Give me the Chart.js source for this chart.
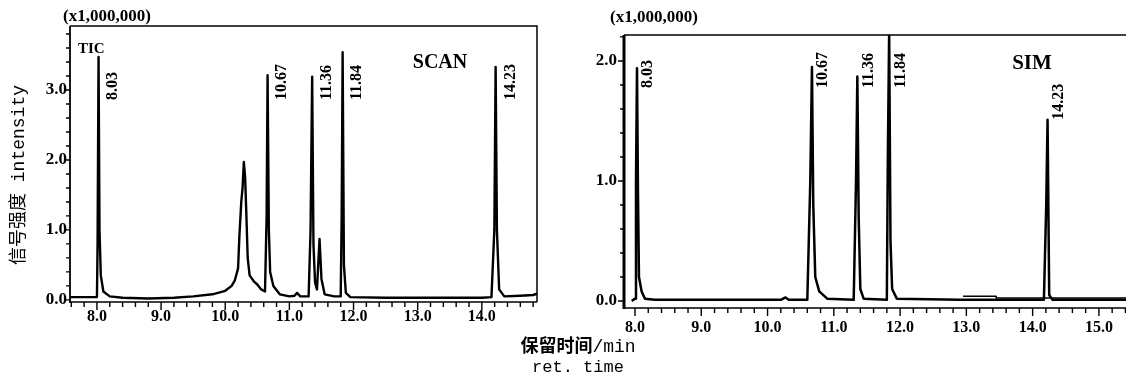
<!DOCTYPE html>
<html><head><meta charset="utf-8">
<script src="https://cdn.jsdelivr.net/npm/chart.js@4/dist/chart.umd.min.js"></script>
<style>
html,body{margin:0;padding:0;background:#fff;overflow:hidden;width:1126px;height:382px;position:relative}
canvas{position:absolute;top:0}
#c1{left:0}
#c2{left:560px}
.xt{position:absolute;left:478px;width:200px;text-align:center;color:#000;white-space:nowrap}
#xt1{top:331px;font:18px 'Liberation Mono','Noto Sans CJK SC',monospace}
#xt1 b{font-family:'Noto Sans CJK SC';font-weight:bold}
#xt2{top:358px;font:17px 'Liberation Mono',monospace}
</style></head><body>
<canvas id="c1" width="545" height="340"></canvas>
<canvas id="c2" width="580" height="345"></canvas>
<div class="xt" id="xt1"><b>保留时间</b>/min</div>
<div class="xt" id="xt2">ret. time</div>
<script>
// ---------- data ----------
const scanTime = [
  7.58, 7.90, 8.00, 8.01, 8.025, 8.04, 8.06, 8.10, 8.20, 8.40,
  8.80, 9.20, 9.50, 9.80, 10.00, 10.10, 10.15, 10.20, 10.22, 10.25,
  10.27, 10.29, 10.31, 10.33, 10.35, 10.38, 10.45, 10.50, 10.56, 10.62,
  10.645, 10.66, 10.68, 10.70, 10.75, 10.85, 11.00, 11.08, 11.12, 11.17,
  11.30, 11.33, 11.355, 11.375, 11.40, 11.43, 11.47, 11.50, 11.55, 11.70,
  11.80, 11.815, 11.83, 11.85, 11.88, 11.95, 12.50, 13.00, 13.50, 14.00,
  14.15, 14.195, 14.215, 14.235, 14.27, 14.35, 14.60, 14.80, 14.86
];
const scanSignal = [
  0.04, 0.04, 0.04, 0.80, 3.47, 1.00, 0.35, 0.12, 0.05, 0.03,
  0.02, 0.03, 0.05, 0.08, 0.13, 0.20, 0.28, 0.45, 0.90, 1.40,
  1.60, 1.97, 1.75, 1.20, 0.60, 0.35, 0.26, 0.22, 0.15, 0.12,
  1.20, 3.21, 1.00, 0.40, 0.20, 0.08, 0.05, 0.06, 0.10, 0.05,
  0.05, 1.00, 3.19, 0.80, 0.25, 0.15, 0.87, 0.30, 0.08, 0.05,
  0.05, 1.20, 3.54, 0.50, 0.10, 0.04, 0.03, 0.03, 0.03, 0.03,
  0.04, 1.00, 3.33, 1.00, 0.15, 0.05, 0.06, 0.07, 0.09
];
const simTime = [
  7.95, 8.00, 8.015, 8.03, 8.045, 8.06, 8.10, 8.15, 8.30, 9.00,
  10.20, 10.27, 10.32, 10.60, 10.645, 10.67, 10.69, 10.72, 10.78, 10.90,
  11.30, 11.335, 11.355, 11.375, 11.40, 11.45, 11.80, 11.815, 11.835, 11.855,
  11.88, 11.95, 12.90, 14.17, 14.205, 14.225, 14.25, 14.30, 15.62
];
const simSignal = [
  0.00, 0.02, 1.00, 1.94, 0.90, 0.20, 0.08, 0.02, 0.01, 0.01,
  0.01, 0.03, 0.01, 0.01, 1.00, 1.95, 0.80, 0.20, 0.08, 0.02,
  0.01, 1.00, 1.87, 0.70, 0.10, 0.02, 0.01, 1.20, 2.25, 0.50,
  0.10, 0.02, 0.01, 0.01, 0.80, 1.51, 0.05, 0.01, 0.01
];
const simSegTime = [12.95, 13.45, 13.45, 15.62];
const simSegSignal = [0.04, 0.04, 0.025, 0.025];

const scanPeakLabels = ['8.03', '10.67', '11.36', '11.84', '14.23'];
const simPeakLabels = ['8.03', '10.67', '11.36', '11.84', '14.23'];
const scanXTicks = [8, 9, 10, 11, 12, 13, 14];
const simXTicks = [8, 9, 10, 11, 12, 13, 14, 15];
const scanYTicks = [0, 1, 2, 3];
const simYTicks = [0, 1, 2];
const scaleUnit = '(x1,000,000)';
const yTitle = '信号强度 intensity';

// ---------- helpers ----------
const pts = (t, v) => t.map((x, i) => ({x, y: v[i]}));
const SERIF = "'Liberation Serif', 'Times New Roman', serif";

const deco = {
  id: 'deco',
  afterDatasetsDraw(chart, args, o) {
    const {ctx, chartArea: a, scales: {x, y}} = chart;
    ctx.save();
    ctx.strokeStyle = '#000';
    ctx.fillStyle = '#000';
    // frame
    ctx.lineWidth = 1.5;
    ctx.beginPath();
    ctx.moveTo(a.left, a.top); ctx.lineTo(a.right, a.top);
    if (o.rightBorder) ctx.lineTo(a.right, a.bottom);
    ctx.moveTo(a.left, a.bottom); ctx.lineTo(a.right, a.bottom);
    ctx.stroke();
    ctx.lineWidth = o.leftWidth;
    ctx.beginPath(); ctx.moveTo(a.left, a.top); ctx.lineTo(a.left, a.bottom + 1); ctx.stroke();
    // ticks
    ctx.lineWidth = 1.4;
    ctx.beginPath();
    for (let i = Math.ceil(x.min * 5); i <= Math.floor(x.max * 5); i++) {
      const px = x.getPixelForValue(i / 5);
      if (px > a.right - 1) continue;
      const len = (i % 5 === 0) ? 8 : 5;
      ctx.moveTo(px, a.bottom); ctx.lineTo(px, a.bottom + len);
    }
    for (let i = Math.ceil(y.min * 5); i <= Math.floor(y.max * 5); i++) {
      const py = y.getPixelForValue(i / 5);
      const len = (i % 5 === 0) ? 6 : 4;
      ctx.moveTo(a.left, py); ctx.lineTo(a.left - len, py);
    }
    ctx.stroke();
    // peak labels
    const data = chart.data.datasets[0].data;
    ctx.font = 'bold 16px ' + SERIF;
    ctx.textAlign = 'left';
    ctx.textBaseline = 'middle';
    o.peaks.forEach(lbl => {
      const t = parseFloat(lbl);
      let h = 0;
      data.forEach(p => { if (Math.abs(p.x - t) < 0.04 && p.y > h) h = p.y; });
      const px = x.getPixelForValue(t) + o.peakDx;
      const yb = Math.max(o.peakBottom, y.getPixelForValue(h));
      ctx.save();
      ctx.translate(px, yb);
      ctx.rotate(-Math.PI / 2);
      ctx.fillText(lbl, 0, 0);
      ctx.restore();
    });
    // texts
    o.texts.forEach(tx => {
      ctx.font = tx.font;
      ctx.textAlign = tx.align || 'center';
      ctx.fillText(tx.text, tx.x, tx.y);
    });
    if (o.yTitle) {
      ctx.save();
      ctx.translate(o.yTitle.x, o.yTitle.y);
      ctx.rotate(-Math.PI / 2);
      ctx.textAlign = 'center';
      ctx.font = "18px 'Liberation Mono', 'Noto Sans CJK SC', monospace";
      ctx.fillText(o.yTitle.text, 0, 0);
      ctx.restore();
    }
    ctx.restore();
  }
};

function makeChart(id, cfg) {
  const lineDs = (t, v, w) => ({
    data: pts(t, v), showLine: true, borderColor: '#000', borderWidth: w,
    pointRadius: 0, tension: 0, fill: false, borderJoinStyle: 'round'
  });
  return new Chart(document.getElementById(id), {
    type: 'scatter',
    data: { datasets: cfg.datasets.map(d => lineDs(d[0], d[1], d[2])) },
    plugins: [deco],
    options: {
      responsive: false, animation: false, devicePixelRatio: 1,
      layout: { padding: cfg.padding },
      plugins: { legend: { display: false }, tooltip: { enabled: false }, deco: cfg.deco },
      scales: {
        x: {
          type: 'linear', min: cfg.xMin, max: cfg.xMax,
          afterBuildTicks: s => { s.ticks = cfg.xTicks.map(v => ({value: v})); },
          afterFit: s => { s.height = cfg.xH; },
          grid: { display: false, drawTicks: false }, border: { display: false },
          ticks: { color: '#000', padding: cfg.xPad, maxRotation: 0, autoSkip: false,
                   font: { family: SERIF, weight: 'bold', size: 16 },
                   callback: v => v.toFixed(1) }
        },
        y: {
          type: 'linear', min: cfg.yMin, max: cfg.yMax,
          afterBuildTicks: s => { s.ticks = cfg.yTicks.map(v => ({value: v})); },
          afterFit: s => { s.width = cfg.yW; },
          grid: { display: false, drawTicks: false }, border: { display: false },
          ticks: { color: '#000', padding: cfg.yPad,
                   font: { family: SERIF, weight: 'bold', size: 17 },
                   callback: v => v.toFixed(1) }
        }
      }
    }
  });
}

makeChart('c1', {
  datasets: [[scanTime, scanSignal, 2.4]],
  padding: { top: 26, right: 8, left: 0, bottom: 10 },
  xMin: 7.58, xMax: 14.86, yMin: -0.03, yMax: 3.914,
  xTicks: scanXTicks, yTicks: scanYTicks, xH: 28, yW: 70, xPad: 5, yPad: 3,
  deco: {
    rightBorder: true, leftWidth: 1.8, peaks: scanPeakLabels, peakDx: 14, peakBottom: 100,
    texts: [
      { text: scaleUnit, x: 107, y: 17, font: 'bold 17px ' + SERIF },
      { text: 'TIC', x: 78, y: 49, align: 'left', font: 'bold 15px ' + SERIF },
      { text: 'SCAN', x: 440, y: 63, font: 'bold 20px ' + SERIF }
    ],
    yTitle: { text: yTitle, x: 19, y: 175 }
  }
});

makeChart('c2', {
  datasets: [[simTime, simSignal, 2.5], [simSegTime, simSegSignal, 1.6]],
  padding: { top: 35, right: 0, left: 0, bottom: 10 },
  xMin: 7.834, xMax: 15.62, yMin: -0.058, yMax: 2.216,
  xTicks: simXTicks, yTicks: simYTicks, xH: 27, yW: 64, xPad: 10, yPad: 7,
  deco: {
    rightBorder: false, leftWidth: 3, peaks: simPeakLabels, peakDx: 11, peakBottom: 88,
    texts: [
      { text: scaleUnit, x: 94, y: 18, font: 'bold 17px ' + SERIF },
      { text: 'SIM', x: 472, y: 64, font: 'bold 21px ' + SERIF }
    ]
  }
});
</script>
</body></html>
